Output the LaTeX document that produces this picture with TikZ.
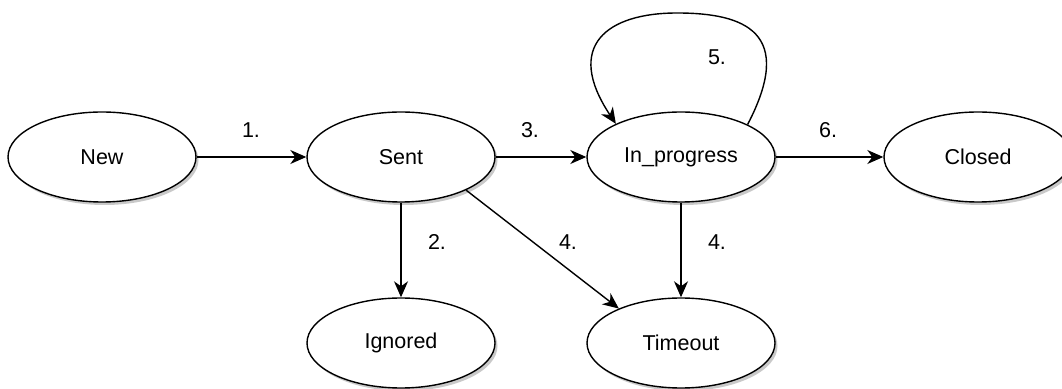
\documentclass[tikz,border=0pt]{standalone}
\usepackage{fontspec}
\setmainfont{Liberation Sans}
\usetikzlibrary{arrows.meta,shapes.geometric,shadows}
\begin{document}
\begin{tikzpicture}[x=1pt,y=1pt,
  state/.style={ellipse,draw=black,line width=1.4pt,fill=white,
    minimum width=188pt,minimum height=90pt,inner sep=0pt,
    font=\fontsize{21.5}{25}\selectfont,
    drop shadow={shadow xshift=2.5pt,shadow yshift=-3pt,fill=black!35,opacity=0.6}},
  lbl/.style={font=\fontsize{21.5}{25}\selectfont,inner sep=0pt},
  arr/.style={draw=black,line width=1.4pt,-{Stealth[length=16pt,width=14pt,inset=5pt]}}]
\clip (0,0) rectangle (1062,388);
\useasboundingbox (0,0) rectangle (1062,388);
\fill[white] (0,0) rectangle (1062,388);
\node[state] (new) at (102,231) {New};
\node[state] (sent) at (401,231) {Sent};
\node[state] (ip) at (681,231) {In\_progress};
\node[state] (closed) at (978,231) {Closed};
\node[state] (ignored) at (401,45) {Ignored};
\node[state] (timeout) at (681,45) {Timeout};
\coordinate (looptop) at (677,375);
\draw[arr] (new) -- (sent);
\draw[arr] (sent) -- (ip);
\draw[arr] (ip) -- (closed);
\draw[arr] (sent) -- (ignored);
\draw[arr] (sent.-27) -- (timeout.151);
\draw[arr] (ip) -- (timeout);
\draw[arr] (ip.26) .. controls +(48,92) and +(68,0) .. (looptop)
  .. controls +(-70,0) and +(-52,78) .. (ip.153);
\node[lbl] (l1) at (251,258) {1.};
\node[lbl] (l3) at (530,258) {3.};
\node[lbl] (l6) at (828,258) {6.};
\node[lbl] (l2) at (437,146) {2.};
\node[lbl] (l4a) at (568,146) {4.};
\node[lbl] (l4b) at (717,146) {4.};
\node[lbl] (l5) at (717,331) {5.};
\end{tikzpicture}
\end{document}
